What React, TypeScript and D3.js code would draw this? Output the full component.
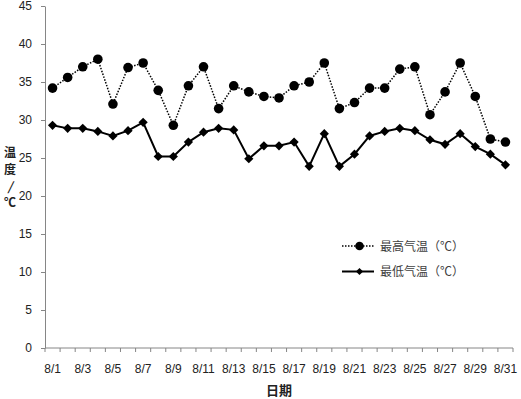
import React, { useEffect, useRef } from "react";
import * as d3 from "d3";

const days = d3.range(1, 32).map((d) => `8/${d}`);

const highTemp = [
  34.2, 35.6, 37.0, 38.0, 32.1, 36.9, 37.5, 33.9, 29.3, 34.5, 37.0, 31.5, 34.5, 33.7, 33.1, 32.9,
  34.5, 35.0, 37.5, 31.5, 32.3, 34.2, 34.2, 36.7, 37.0, 30.7, 33.7, 37.5, 33.1, 27.5, 27.1,
];

const lowTemp = [
  29.3, 28.9, 28.9, 28.5, 27.9, 28.6, 29.7, 25.2, 25.2, 27.1, 28.4, 28.9, 28.7, 24.9, 26.6, 26.6,
  27.1, 23.9, 28.2, 23.9, 25.5, 27.9, 28.5, 28.9, 28.6, 27.4, 26.8, 28.2, 26.5, 25.5, 24.1,
];

const yTicks = [0, 5, 10, 15, 20, 25, 30, 35, 40, 45];
const seriesNames = ["最高气温（℃）", "最低气温（℃）"];

const W = 521;
const H = 399;

const App = () => {
  const ref = useRef<SVGSVGElement>(null);

  useEffect(() => {
    const svg = d3.select(ref.current);
    svg.selectAll("*").remove();

    const left = 45;
    const right = 513;
    const top = 6;
    const bottom = 348;
    const numFont = "'Liberation Sans', Arial, sans-serif";
    const cjkFont = "'Noto Sans CJK SC', sans-serif";

    const x = d3.scaleBand().domain(days).range([left, right]);
    const y = d3.scaleLinear().domain([0, 45]).range([bottom, top]);
    const cx = (i: number) => (x(days[i]) as number) + x.bandwidth() / 2;

    // y axis
    const yAxis = svg.append("g").attr("transform", `translate(${left},0)`)
      .call(d3.axisLeft(y).tickValues(yTicks).tickSize(4).tickSizeOuter(0));
    yAxis.select(".domain").attr("stroke", "#868686");
    yAxis.selectAll(".tick line").attr("stroke", "#868686");
    yAxis.selectAll(".tick text")
      .attr("x", -13)
      .style("font-family", numFont)
      .style("font-size", "12px")
      .attr("fill", "#222");

    // x axis, ticks at band edges
    const xg = svg.append("g").attr("transform", `translate(0,${bottom})`);
    xg.append("line").attr("x1", left).attr("x2", right).attr("stroke", "#868686");
    xg.selectAll(".xt")
      .data(d3.range(days.length + 1))
      .enter()
      .append("line")
      .attr("x1", (i) => left + i * x.step())
      .attr("x2", (i) => left + i * x.step())
      .attr("y1", 0)
      .attr("y2", 4)
      .attr("stroke", "#868686");
    xg.selectAll(".xl")
      .data(days.filter((_, i) => i % 2 === 0))
      .enter()
      .append("text")
      .attr("x", (d) => (x(d) as number) + x.bandwidth() / 2)
      .attr("y", 25)
      .attr("text-anchor", "middle")
      .style("font-family", numFont)
      .style("font-size", "12px")
      .attr("fill", "#222")
      .text((d) => d);

    // axis titles
    svg.append("text")
      .attr("x", 279)
      .attr("y", 395)
      .attr("text-anchor", "middle")
      .style("font-family", cjkFont)
      .style("font-size", "13px")
      .style("font-weight", "bold")
      .attr("fill", "#222")
      .text("日期");

    const yTitle = ["温", "度", "/", "℃"];
    svg.selectAll(".yt")
      .data(yTitle)
      .enter()
      .append("text")
      .attr("x", 10)
      .attr("y", (_, i) => 157 + i * 16.8)
      .attr("text-anchor", "middle")
      .style("font-family", cjkFont)
      .style("font-size", "12px")
      .style("font-weight", "bold")
      .style("font-style", (d) => (d === "/" ? "italic" : "normal"))
      .attr("fill", "#222")
      .text((d) => d);

    const line = d3.line<number>().x((_, i) => cx(i)).y((d) => y(d));

    // high series
    svg.append("path")
      .datum(highTemp)
      .attr("d", line)
      .attr("fill", "none")
      .attr("stroke", "#000")
      .attr("stroke-width", 1.5)
      .attr("stroke-dasharray", "1.5,1.5");
    svg.selectAll(".hi")
      .data(highTemp)
      .enter()
      .append("circle")
      .attr("cx", (_, i) => cx(i))
      .attr("cy", (d) => y(d))
      .attr("r", 4.8)
      .attr("fill", "#000");

    // low series
    svg.append("path")
      .datum(lowTemp)
      .attr("d", line)
      .attr("fill", "none")
      .attr("stroke", "#000")
      .attr("stroke-width", 2);
    const diamond = (s: number) => `M0,${-s}L${s},0L0,${s}L${-s},0Z`;
    svg.selectAll(".lo")
      .data(lowTemp)
      .enter()
      .append("path")
      .attr("d", diamond(4.6))
      .attr("transform", (d, i) => `translate(${cx(i)},${y(d)})`)
      .attr("fill", "#000");

    // legend
    const leg = svg.append("g");
    seriesNames.forEach((name, i) => {
      const ly = 246 + i * 25.5;
      leg.append("line")
        .attr("x1", 342).attr("x2", 374).attr("y1", ly).attr("y2", ly)
        .attr("stroke", "#000")
        .attr("stroke-width", i === 0 ? 1.5 : 2)
        .attr("stroke-dasharray", i === 0 ? "1.5,1.5" : null);
      if (i === 0) {
        leg.append("circle").attr("cx", 359.5).attr("cy", ly).attr("r", 4.3).attr("fill", "#000");
      } else {
        leg.append("path").attr("d", diamond(3.6)).attr("transform", `translate(359.5,${ly})`).attr("fill", "#000");
      }
      leg.append("text")
        .attr("x", 380)
        .attr("y", ly + 4.5)
        .style("font-family", cjkFont)
        .style("font-size", "12px")
        .attr("fill", "#404040")
        .text(name);
    });
  }, []);

  return (
    <svg
      ref={ref}
      width={W}
      height={H}
      style={{ position: "absolute", left: 0, top: 0, background: "#fff" }}
    />
  );
};

export default App;
